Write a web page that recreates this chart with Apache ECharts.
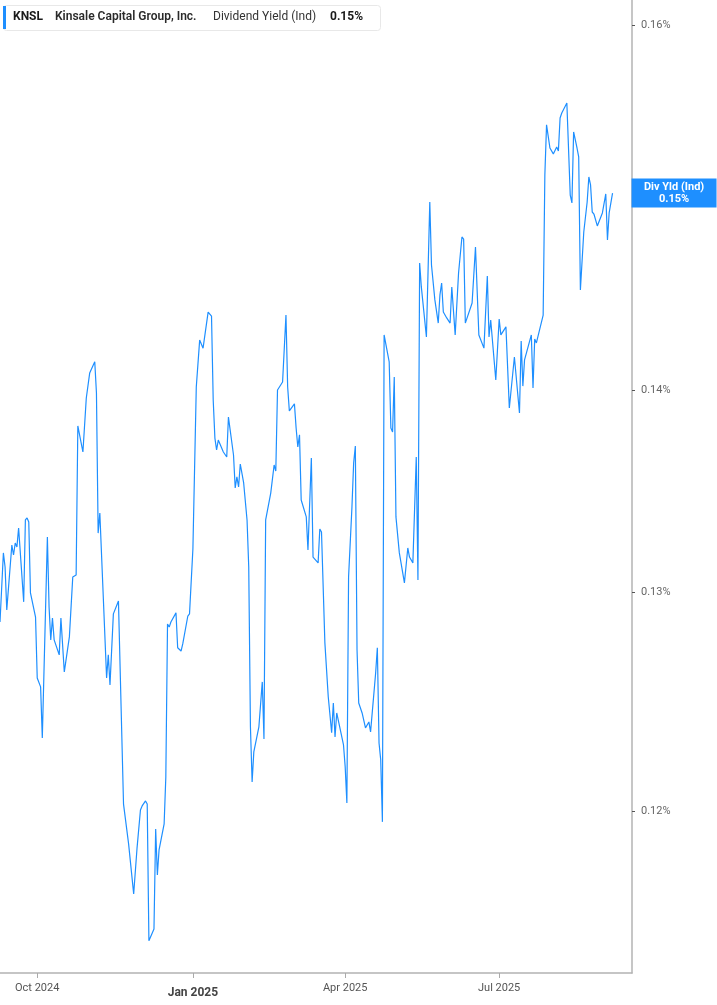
<!DOCTYPE html>
<html>
<head>
<meta charset="utf-8">
<script src="https://cdn.jsdelivr.net/npm/echarts@6/dist/echarts.min.js"></script>
<style>
html, body { margin: 0; padding: 0; background: #fff; }
#main { width: 717px; height: 1005px; }
</style>
</head>
<body>
<div id="main"></div>
<script>
// dividend yield (ind), in %
var dates = [
	'2024-09-09','2024-09-11','2024-09-12','2024-09-13','2024-09-16','2024-09-17','2024-09-18','2024-09-19','2024-09-20','2024-09-23',
	'2024-09-24','2024-09-25','2024-09-26','2024-09-27','2024-09-30','2024-10-01','2024-10-02','2024-10-03','2024-10-04','2024-10-07',
	'2024-10-08','2024-10-09','2024-10-10','2024-10-11','2024-10-14','2024-10-15','2024-10-17','2024-10-20','2024-10-22','2024-10-24',
	'2024-10-25','2024-10-28','2024-10-30','2024-11-01','2024-11-04','2024-11-05','2024-11-06','2024-11-07','2024-11-11','2024-11-12',
	'2024-11-13','2024-11-15','2024-11-18','2024-11-21','2024-11-24','2024-11-27','2024-11-29','2024-12-01','2024-12-02','2024-12-04',
	'2024-12-05','2024-12-06','2024-12-09','2024-12-10','2024-12-11','2024-12-12','2024-12-13','2024-12-15','2024-12-16','2024-12-17',
	'2024-12-18','2024-12-19','2024-12-22','2024-12-23','2024-12-25','2024-12-26','2024-12-29','2024-12-30','2025-01-01','2025-01-03',
	'2025-01-05','2025-01-06','2025-01-07','2025-01-10','2025-01-12','2025-01-13','2025-01-14','2025-01-15','2025-01-16','2025-01-19',
	'2025-01-21','2025-01-22','2025-01-23','2025-01-25','2025-01-26','2025-01-27','2025-01-28','2025-01-29','2025-01-31','2025-02-02',
	'2025-02-03','2025-02-04','2025-02-05','2025-02-06','2025-02-09','2025-02-11','2025-02-12','2025-02-13','2025-02-16','2025-02-18',
	'2025-02-19','2025-02-20','2025-02-23','2025-02-25','2025-02-26','2025-02-27','2025-03-02','2025-03-03','2025-03-04','2025-03-05',
	'2025-03-06','2025-03-09','2025-03-10','2025-03-12','2025-03-13','2025-03-16','2025-03-17','2025-03-18','2025-03-20','2025-03-22',
	'2025-03-24','2025-03-25','2025-03-26','2025-03-27','2025-03-31','2025-04-01','2025-04-02','2025-04-03','2025-04-05','2025-04-06',
	'2025-04-07','2025-04-08','2025-04-09','2025-04-11','2025-04-13','2025-04-15','2025-04-16','2025-04-19','2025-04-20','2025-04-21',
	'2025-04-22','2025-04-23','2025-04-24','2025-04-27','2025-04-28','2025-04-29','2025-04-30','2025-05-01','2025-05-03','2025-05-06',
	'2025-05-08','2025-05-09','2025-05-11','2025-05-13','2025-05-14','2025-05-15','2025-05-16','2025-05-19','2025-05-21','2025-05-22',
	'2025-05-24','2025-05-26','2025-05-27','2025-05-28','2025-05-29','2025-05-31','2025-06-02','2025-06-03','2025-06-05','2025-06-07',
	'2025-06-09','2025-06-10','2025-06-11','2025-06-12','2025-06-15','2025-06-17','2025-06-19','2025-06-22','2025-06-24','2025-06-25',
	'2025-06-26','2025-06-29','2025-07-01','2025-07-02','2025-07-05','2025-07-07','2025-07-08','2025-07-10','2025-07-13','2025-07-14',
	'2025-07-15','2025-07-16','2025-07-20','2025-07-21','2025-07-22','2025-07-23','2025-07-27','2025-07-28','2025-07-29','2025-07-31',
	'2025-08-02','2025-08-04','2025-08-05','2025-08-06','2025-08-07','2025-08-10','2025-08-11','2025-08-12','2025-08-13','2025-08-14',
	'2025-08-16','2025-08-17','2025-08-18','2025-08-20','2025-08-22','2025-08-23','2025-08-24','2025-08-25','2025-08-26','2025-08-28',
	'2025-08-31','2025-09-02','2025-09-03','2025-09-04','2025-09-06'
];
var yields = [
	0.12861,0.13190,0.13122,0.12918,0.13228,0.13180,0.13238,0.13219,0.13311,0.12956,
	0.13350,0.13360,0.13340,0.12998,0.12884,0.12600,0.12605,0.12559,0.12327,0.13267,
	0.12932,0.12777,0.12880,0.12777,0.12707,0.12880,0.12628,0.12791,0.13074,0.13084,
	0.13817,0.13686,0.13959,0.14087,0.14145,0.13985,0.13286,0.13384,0.12600,0.12707,
	0.12568,0.12899,0.12960,0.12032,0.11858,0.11643,0.11841,0.12006,0.12024,0.12046,
	0.12032,0.11445,0.11495,0.11923,0.11724,0.11832,0.11836,0.11945,0.12152,0.12851,
	0.12837,0.12861,0.12904,0.12740,0.12725,0.12758,0.12889,0.12899,0.13209,0.14015,
	0.14258,0.14258,0.14216,0.14405,0.14384,0.13949,0.13756,0.13696,0.13746,0.13686,
	0.13661,0.13862,0.13862,0.13671,0.13507,0.13562,0.13512,0.13626,0.13532,0.13350,
	0.13122,0.12377,0.12130,0.12264,0.12377,0.12582,0.12322,0.13350,0.13482,0.13621,
	0.13591,0.14000,0.14041,0.14389,0.14015,0.13893,0.13929,0.13807,0.13711,0.13772,
	0.13448,0.13365,0.13204,0.13656,0.13170,0.13142,0.13306,0.13291,0.12763,0.12513,
	0.12350,0.12485,0.12331,0.12440,0.12295,0.12197,0.12037,0.13074,0.13414,0.13631,
	0.13716,0.12730,0.12485,0.12440,0.12372,0.12399,0.12354,0.12623,0.12740,0.12304,
	0.12228,0.11954,0.14285,0.14145,0.13807,0.13787,0.14067,0.13365,0.13190,0.13046,
	0.13214,0.13170,0.13142,0.13661,0.13060,0.14666,0.14538,0.14274,0.14997,0.14655,
	0.14469,0.14347,0.14496,0.14559,0.14405,0.14374,0.14347,0.14538,0.14285,0.14612,
	0.14806,0.14795,0.14347,0.14337,0.14453,0.14752,0.14285,0.14216,0.14596,0.14274,
	0.14363,0.14051,0.14368,0.14285,0.14327,0.13908,0.13903,0.14170,0.13883,0.14253,
	0.14020,0.14155,0.14285,0.14010,0.14264,0.14243,0.14389,0.15146,0.15426,0.15296,
	0.15263,0.15302,0.15279,0.15465,0.15493,0.15550,0.15539,0.15035,0.14992,0.15386,
	0.15296,0.15246,0.14522,0.14833,0.14997,0.15135,0.15091,0.14942,0.14931,0.14866,
	0.14937,0.15041,0.14790,0.14937,0.15046
];
var yTicks = [0.12, 0.13, 0.14, 0.15, 0.16];
var xTicks = ['2024-10-01', '2025-01-01', '2025-04-01', '2025-07-01'];
var monthNames = ['Jan','Feb','Mar','Apr','May','Jun','Jul','Aug','Sep','Oct','Nov','Dec'];

var lineColor = '#1e8fff';
var DAY = 24 * 3600 * 1000;

// dates are parsed as UTC
var seriesData = [];
for (var i = 0; i < dates.length; i++) {
	seriesData.push([Date.parse(dates[i]), yields[i]]);
}
var xTickTimes = xTicks.map(function (s) { return Date.parse(s); });
var lastVal = yields[yields.length - 1];

var myChart = echarts.init(document.getElementById('main'));
myChart.setOption({
	animation: false,
	backgroundColor: '#fff',
	grid: { left: 0, right: 85, top: 0, bottom: 32, containLabel: false },
	xAxis: {
		type: 'value',
		min: Date.parse('2024-09-09'),
		max: Date.parse('2025-09-17') + DAY / 2,
		axisLine: { show: true, onZero: false, lineStyle: { color: '#b3b3b3', width: 1.5 } },
		axisTick: { show: true, customValues: xTickTimes, length: 5, lineStyle: { color: '#aaa' } },
		splitLine: { show: false },
		axisLabel: {
			customValues: xTickTimes,
			margin: 10,
			color: '#555',
			fontFamily: 'Roboto',
			fontSize: 11,
			formatter: function (value) {
				var d = new Date(value);
				var s = monthNames[d.getUTCMonth()] + ' ' + d.getUTCFullYear();
				if (d.getUTCMonth() == 0) {
					return '{b|' + s + '}';
				}
				return s;
			},
			rich: {
				b: { fontWeight: 'bold', fontSize: 12, color: '#444', fontFamily: 'Roboto', padding: [4, 0, 0, 0] }
			}
		}
	},
	yAxis: {
		type: 'log',
		logBase: 10,
		position: 'right',
		min: 0.11311,
		max: 0.16147,
		axisLine: { show: true, lineStyle: { color: '#b3b3b3', width: 1.5 } },
		axisTick: { show: true, customValues: yTicks, length: 3, lineStyle: { color: '#555' } },
		splitLine: { show: false },
		axisLabel: {
			customValues: yTicks,
			margin: 9,
			color: '#666',
			fontFamily: 'Roboto',
			fontSize: 11,
			formatter: function (value) {
				return value.toFixed(2) + '%';
			}
		}
	},
	series: [{
		type: 'line',
		data: seriesData,
		showSymbol: false,
		symbol: 'none',
		lineStyle: { color: lineColor, width: 1.2 },
		itemStyle: { color: lineColor },
		endLabel: {
			show: true,
			distance: 19,
			formatter: '{a|Div Yld (Ind)}\n{a|' + lastVal.toFixed(2) + '%}',
			backgroundColor: lineColor,
			padding: [3, 4, 2, 4],
			rich: {
				a: { width: 77, align: 'center', color: '#fff', fontWeight: 'bold', fontSize: 11, lineHeight: 12, fontFamily: 'Roboto' }
			}
		}
	}],
	graphic: [
		{ type: 'rect', left: 3, top: 5, shape: { width: 377, height: 25, r: 3 }, style: { fill: '#fff', stroke: '#e8e8e8', lineWidth: 1 } },
		{ type: 'rect', left: 3, top: 6, shape: { width: 3, height: 23 }, style: { fill: lineColor } },
		{ type: 'text', left: 13, top: 11, style: { text: 'KNSL', fill: '#1a1a1a', font: 'bold 12px Roboto' } },
		{ type: 'text', left: 55, top: 11, style: { text: 'Kinsale Capital Group, Inc.', fill: '#2a2a2a', font: '600 12px Roboto' } },
		{ type: 'text', left: 213, top: 11, style: { text: 'Dividend Yield (Ind)', fill: '#333', font: '12px Roboto' } },
		{ type: 'text', left: 330, top: 11, style: { text: lastVal.toFixed(2) + '%', fill: '#1a1a1a', font: 'bold 12px Roboto' } }
	]
});
</script>
</body>
</html>
